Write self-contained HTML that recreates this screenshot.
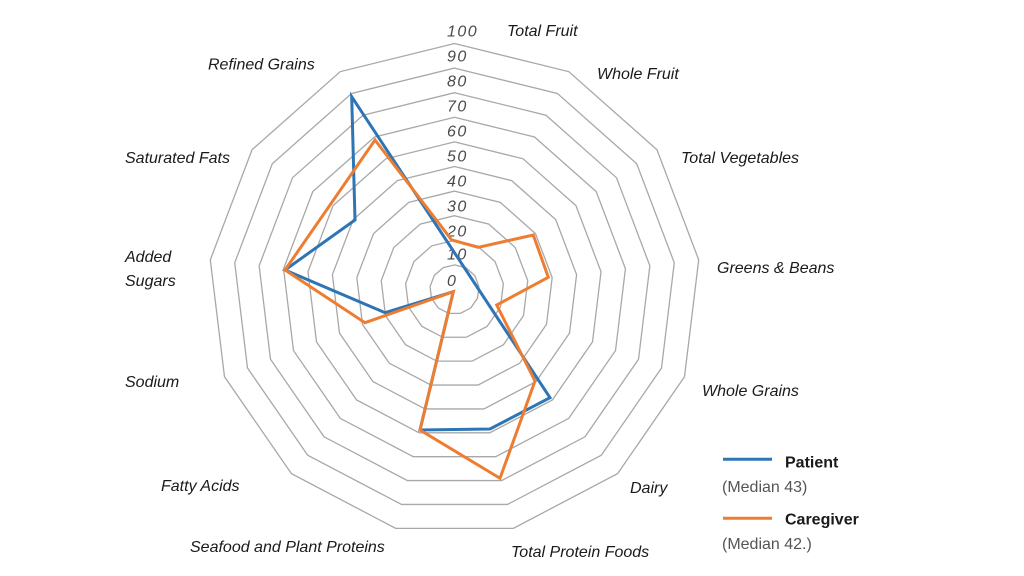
<!DOCTYPE html>
<html>
<head>
<meta charset="utf-8">
<style>
  html, body { margin: 0; padding: 0; background: #ffffff; }
  svg { display: block; }
  .cat { font-family: "Liberation Sans", sans-serif; font-style: italic; font-size: 16px; fill: #1a1a1a; }
  .num { font-family: "Liberation Sans", sans-serif; font-style: italic; font-size: 16px; fill: #4a4a4a; letter-spacing: 1.5px; }
  .legb { font-family: "Liberation Sans", sans-serif; font-weight: bold; font-size: 16px; fill: #1a1a1a; }
  .legr { font-family: "Liberation Sans", sans-serif; font-size: 16px; fill: #555555; }
</style>
</head>
<body>
<svg width="1024" height="576" viewBox="0 0 1024 576" xmlns="http://www.w3.org/2000/svg">
  <rect width="1024" height="576" fill="#ffffff"/>
  <g fill="none" stroke="#a8a8a8" stroke-width="1.3">
    <polygon points="454.5,264.9 465.93,267.72 474.75,275.52 478.92,286.54 477.5,298.22 470.81,307.91 460.39,313.38 448.61,313.38 438.19,307.91 431.5,298.22 430.08,286.54 434.25,275.52 443.07,267.72"/>
    <polygon points="454.5,240.3 477.36,245.93 494.99,261.55 503.34,283.57 500.5,306.95 487.12,326.33 466.27,337.27 442.73,337.27 421.88,326.33 408.5,306.95 405.66,283.57 414.01,261.55 431.64,245.93"/>
    <polygon points="454.5,215.7 488.79,224.15 515.24,247.57 527.76,280.61 523.5,315.67 503.44,344.74 472.16,361.15 436.84,361.15 405.56,344.74 385.5,315.67 381.24,280.61 393.76,247.57 420.21,224.15"/>
    <polygon points="454.5,191.1 500.23,202.37 535.48,233.6 552.18,277.64 546.5,324.39 519.75,363.15 478.05,385.04 430.95,385.04 389.25,363.15 362.5,324.39 356.82,277.64 373.52,233.6 408.77,202.37"/>
    <polygon points="454.5,166.5 511.66,180.58 555.73,219.62 576.6,274.68 569.51,333.12 536.06,381.57 483.93,408.92 425.07,408.92 372.94,381.57 339.49,333.12 332.4,274.68 353.27,219.62 397.34,180.58"/>
    <polygon points="454.5,141.9 523.09,158.8 575.97,205.65 601.02,271.71 592.51,341.84 552.37,399.98 489.82,432.8 419.18,432.8 356.63,399.98 316.49,341.84 307.98,271.71 333.03,205.65 385.91,158.8"/>
    <polygon points="454.5,117.3 534.52,137.02 596.22,191.67 625.44,268.75 615.51,350.56 568.69,418.39 495.71,456.69 413.29,456.69 340.31,418.39 293.49,350.56 283.56,268.75 312.78,191.67 374.48,137.02"/>
    <polygon points="454.5,92.7 545.95,115.23 616.47,177.7 649.86,265.79 638.51,359.29 585.0,436.8 501.59,480.57 407.41,480.57 324.0,436.8 270.49,359.29 259.14,265.79 292.53,177.7 363.05,115.23"/>
    <polygon points="454.5,68.1 557.38,93.45 636.71,163.72 674.28,262.82 661.51,368.01 601.31,455.22 507.48,504.46 401.52,504.46 307.69,455.22 247.49,368.01 234.72,262.82 272.29,163.72 351.62,93.45"/>
    <polygon points="454.5,43.5 568.82,71.67 656.96,149.75 698.7,259.86 684.51,376.73 617.62,473.63 513.37,528.34 395.63,528.34 291.38,473.63 224.49,376.73 210.3,259.86 252.04,149.75 340.18,71.67"/>
  </g>

  <!-- value labels -->
  <g class="num">
    <text x="447" y="36.7">100</text>
    <text x="447" y="61.7">90</text>
    <text x="447" y="86.7">80</text>
    <text x="447" y="111.7">70</text>
    <text x="447" y="136.7">60</text>
    <text x="447" y="161.7">50</text>
    <text x="447" y="186.7">40</text>
    <text x="447" y="211.7">30</text>
    <text x="447" y="236.7">20</text>
    <text x="447" y="259.7">10</text>
    <text x="447" y="286.2">0</text>
  </g>

  <!-- Patient (blue) -->
  <polygon points="351.7,96.7 550,397.7 490,429 420,430 453.3,291.7 385,312.7 285,270 355,220"
           fill="none" stroke="#2E75B6" stroke-width="3" stroke-linejoin="miter"/>
  <!-- Caregiver (orange) -->
  <polygon points="451.7,240 478.3,247.3 533.3,235 548.3,277.3 496.7,305 535,381 500,478.3 420,430 453.3,291.7 365,322.7 285,270 375,140"
           fill="none" stroke="#ED7D31" stroke-width="3" stroke-linejoin="miter"/>

  <!-- category labels -->
  <g class="cat">
    <text x="507" y="36">Total Fruit</text>
    <text x="597" y="79">Whole Fruit</text>
    <text x="681" y="163">Total Vegetables</text>
    <text x="717" y="273">Greens &amp; Beans</text>
    <text x="702" y="396">Whole Grains</text>
    <text x="630" y="493">Dairy</text>
    <text x="511" y="557">Total Protein Foods</text>
    <text x="190" y="552">Seafood and Plant Proteins</text>
    <text x="161" y="491">Fatty Acids</text>
    <text x="125" y="387">Sodium</text>
    <text x="125" y="262">Added</text>
    <text x="125" y="286">Sugars</text>
    <text x="125" y="163">Saturated Fats</text>
    <text x="208" y="69.5">Refined Grains</text>
  </g>

  <!-- legend -->
  <line x1="723" y1="459.3" x2="772" y2="459.3" stroke="#2E75B6" stroke-width="3"/>
  <text class="legb" x="785" y="467.5">Patient</text>
  <text class="legr" x="722" y="492">(Median 43)</text>
  <line x1="723" y1="518.3" x2="772" y2="518.3" stroke="#ED7D31" stroke-width="3"/>
  <text class="legb" x="785" y="524.5">Caregiver</text>
  <text class="legr" x="722" y="549">(Median 42.)</text>
</svg>
</body>
</html>
